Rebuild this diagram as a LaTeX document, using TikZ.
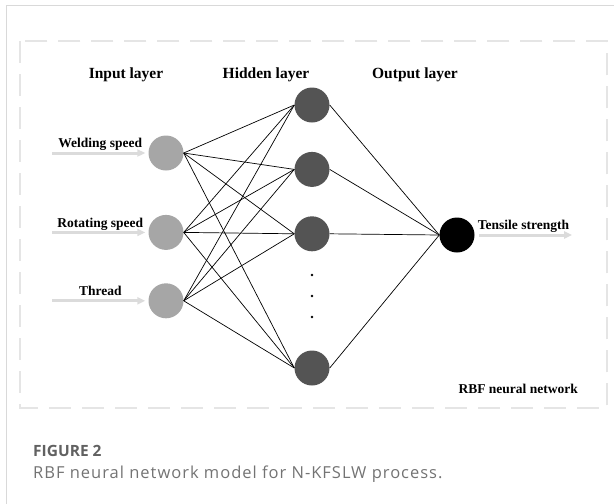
\documentclass[tikz,border=0pt]{standalone}
\usepackage{fontspec}
\setmainfont{Liberation Serif}
\newfontfamily\capfont{Open Sans}
\newfontfamily\capwide[LetterSpace=6]{Open Sans}
\usetikzlibrary{arrows.meta,calc,positioning}

\begin{document}
\begin{tikzpicture}[
  x=1pt, y=-1pt,
  font=\bfseries\fontsize{13.5}{16}\selectfont,
  title/.style={font=\bfseries\fontsize{15.5}{18}\selectfont, inner sep=0pt},
  lbl/.style={inner sep=0pt, text height=0.68em, text depth=0.22em},
  inunit/.style={circle, fill=black!35, minimum size=35pt, inner sep=0pt},
  hidunit/.style={circle, fill=black!67, minimum size=35pt, inner sep=0pt},
  outunit/.style={circle, fill=black, minimum size=35pt, inner sep=0pt},
  link/.style={draw=black, line width=0.7pt},
  feed/.style={-{Triangle[length=8pt, width=7pt]}, line width=3pt, draw=black!14},
  frame/.style={draw=black!40, double=black!10, double distance=1.8pt,
    line width=0.55pt, dash pattern=on 22pt off 11pt}
]
  \useasboundingbox (0,0) rectangle (614,504);
  \draw[black!15, line width=1pt] (6,504) -- (6,5) -- (614,5);
  \draw[frame] (20,41) rectangle (607,408);

  \node[title] (tin) at (126,75) {Input layer};
  \node[title] (thid) at (266,75) {Hidden layer};
  \node[title] (tout) at (415,75) {Output layer};

  \node[inunit] (weld) at (166,153) {};
  \node[inunit, below=44pt of weld] (rota) {};
  \node[inunit, below=33pt of rota] (thrd) {};

  \node[hidunit] (h1) at (312,105) {};
  \node[hidunit, below=29pt of h1] (h2) {};
  \node[hidunit, below=29pt of h2] (h3) {};
  \node[hidunit] (h4) at (312,368) {};
  \foreach \y in {275,296,317}
    \fill (312,\y) circle (1.3pt);

  \node[outunit] (out) at (457,235) {};

  \foreach \i in {weld,rota,thrd}
    \foreach \j in {h1,h2,h3,h4}
      \draw[link] (\i.east) -- (\j.west);
  \foreach \j in {h1,h2,h3,h4}
    \draw[link] (\j.east) -- (out.west);

  \coordinate[left=96pt of weld] (wsrc);
  \coordinate[left=96pt of rota] (rsrc);
  \coordinate[left=96pt of thrd] (tsrc);
  \coordinate[right=97.5pt of out] (osink);
  \draw[feed, shorten >=3pt] (wsrc) -- (weld);
  \draw[feed, shorten >=3pt] (rsrc) -- (rota);
  \draw[feed, shorten >=3pt] (tsrc) -- (thrd);
  \draw[feed, shorten <=4.5pt] (out) -- (osink);

  \node[lbl, above=3pt of $(wsrc)!0.5!(weld.west)$] (lweld) {Welding speed};
  \node[lbl, above=3pt of $(rsrc)!0.5!(rota.west)$] (lrota) {Rotating speed};
  \node[lbl, above=3pt of $(tsrc)!0.5!(thrd.west)$] (lthrd) {Thread};
  \node[lbl, above=3pt of $(out.east)!0.5!(osink)$] (lout) {Tensile strength};
  \node[lbl, anchor=east] (netname) at (578,391) {RBF neural network};

  \node[anchor=base west, inner sep=0pt, text=black!62,
    font=\capfont\bfseries\fontsize{15.5}{18}\selectfont] (fignum) at (33,456) {FIGURE 2};
  \node[anchor=base west, inner sep=0pt, text=black!55,
    font=\capwide\fontsize{16.5}{18}\selectfont] (figcap) at (33,478)
    {RBF neural network model for N-KFSLW process.};
\end{tikzpicture}
\end{document}
